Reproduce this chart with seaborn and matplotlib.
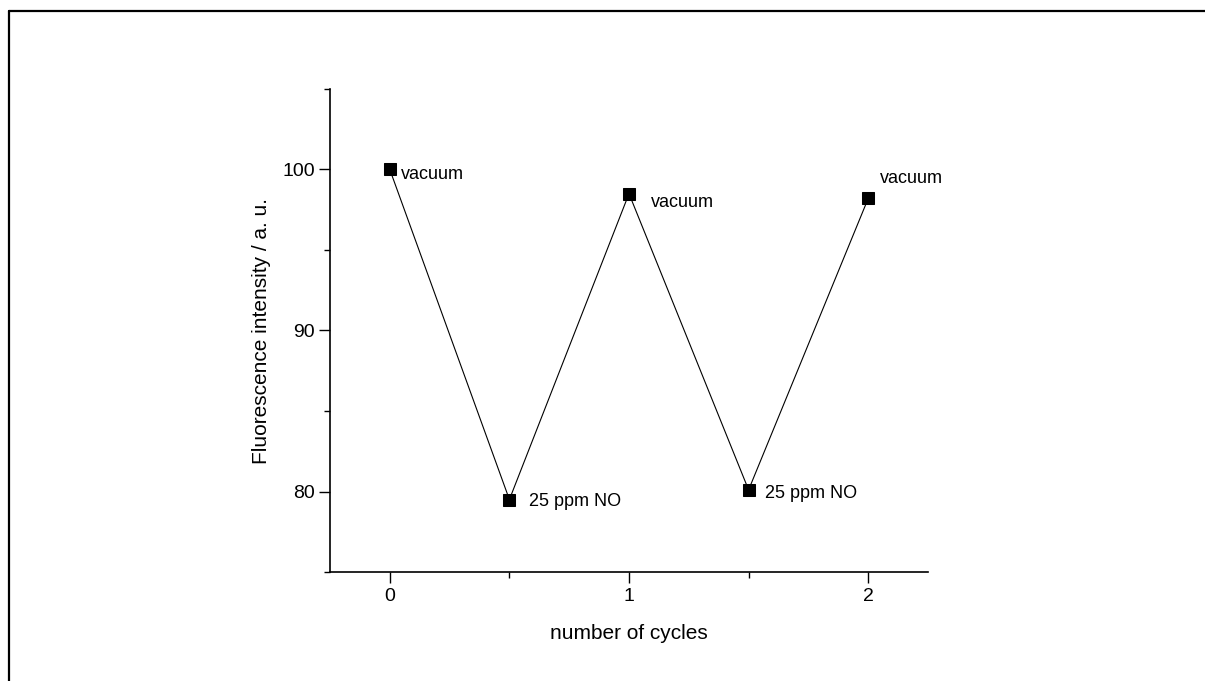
import matplotlib
matplotlib.use("Agg")
import matplotlib.pyplot as plt
import seaborn as sns
import pandas as pd
from matplotlib.lines import Line2D
from matplotlib.ticker import MultipleLocator

cycles = [0, 0.5, 1, 1.5, 2]
intensity = [100.0, 79.5, 98.5, 80.1, 98.2]
labels = ["vacuum", "25 ppm NO", "vacuum", "25 ppm NO", "vacuum"]

# label offsets (data units) relative to each point
label_dx = [0.045, 0.08, 0.09, 0.07, 0.05]
label_dy = [-0.3, -0.1, -0.55, -0.25, 1.25]

sns.set_style("ticks")
plt.rcParams['font.family'] = ['Liberation Sans', 'DejaVu Sans']
plt.rcParams['text.color'] = 'black'
plt.rcParams['axes.labelcolor'] = 'black'
plt.rcParams['xtick.color'] = 'black'
plt.rcParams['ytick.color'] = 'black'

fig = plt.figure(figsize=(12.05, 6.81), dpi=100)
ax = fig.add_axes([330/1205, 1-572/681, (928-330)/1205, (572-89)/681])

df = pd.DataFrame({"cycles": cycles, "intensity": intensity})
sns.lineplot(data=df, x="cycles", y="intensity", ax=ax, color="black",
             linewidth=0.8, marker="s", markersize=8, markeredgecolor="black",
             markerfacecolor="black")

for x, y, t, dx, dy in zip(cycles, intensity, labels, label_dx, label_dy):
    ax.text(x + dx, y + dy, t, fontsize=13, ha="left", va="center", color="black")

ax.set_xlim(-0.25, 2.25)
ax.set_ylim(75, 105)
ax.xaxis.set_major_locator(MultipleLocator(1))
ax.xaxis.set_minor_locator(MultipleLocator(0.5))
ax.set_yticks([80, 90, 100])
ax.yaxis.set_minor_locator(MultipleLocator(5))
ax.tick_params(axis="both", which="major", length=8, width=1, labelsize=14,
               direction="out", color="black", labelcolor="black")
ax.tick_params(axis="y", which="major", pad=3)
ax.tick_params(axis="both", which="minor", length=4, width=1, direction="out", color="black")
ax.set_xlabel("number of cycles", fontsize=15, labelpad=14, color="black")
ax.set_ylabel("Fluorescence intensity / a. u.", fontsize=15, labelpad=8, color="black")
sns.despine(ax=ax)
for s in ["left", "bottom"]:
    ax.spines[s].set_linewidth(1.2)
    ax.spines[s].set_color("black")

fig.add_artist(Line2D([8.5/1205, 1.0], [1-10.5/681, 1-10.5/681], transform=fig.transFigure, color="black", linewidth=1.6))
fig.add_artist(Line2D([8.5/1205, 8.5/1205], [0, 1-10.5/681], transform=fig.transFigure, color="black", linewidth=1.6))

fig.savefig("out.png", dpi=100)
